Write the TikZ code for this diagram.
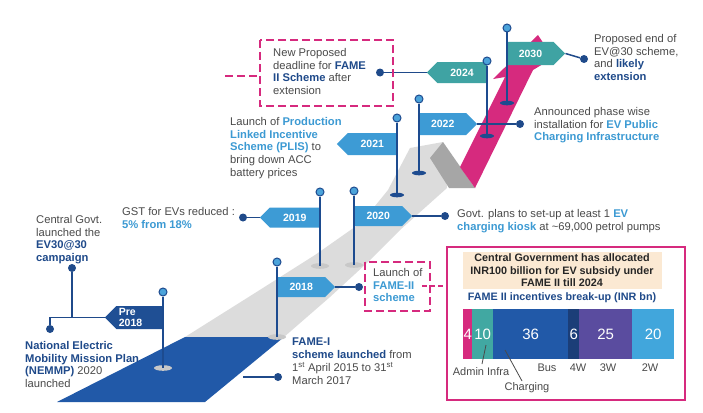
\documentclass[tikz,border=0pt]{standalone}
\usepackage{fontspec}
\setmainfont{Liberation Sans}
\usetikzlibrary{shapes.symbols}
\definecolor{txtgrey}{HTML}{4A4A4A}
\definecolor{cNavy}{HTML}{1F4A8A}
\definecolor{cLblue}{HTML}{3C9AD3}
\definecolor{cFlag}{HTML}{3D9BD5}
\definecolor{cTeal}{HTML}{3FA3A3}
\definecolor{cPre}{HTML}{1F4F94}
\definecolor{cPink}{HTML}{D62A7E}
\definecolor{cPole}{HTML}{1D4B8F}
\definecolor{cBall}{HTML}{4BA3DA}
\definecolor{cRoad}{HTML}{2159A8}
\definecolor{cLgrey}{HTML}{DCDCDC}
\definecolor{cDgrey}{HTML}{A6A6A6}
\definecolor{cBase}{HTML}{C8C8C8}
\definecolor{cBeige}{HTML}{FBE9D3}
\definecolor{cSegBlue}{HTML}{2159A8}
\definecolor{cSegNavy}{HTML}{1B3E78}
\definecolor{cSegPurple}{HTML}{5A4C9F}
\definecolor{cSegLight}{HTML}{41A6DC}
\definecolor{cSegTeal}{HTML}{41A8A2}
\newcommand\navb[1]{\textcolor{cNavy}{\bfseries #1}}
\newcommand\lbb[1]{\textcolor{cLblue}{\bfseries #1}}
\tikzset{
  lab/.style={font=\fontsize{11.2}{12.8}\selectfont, text=txtgrey, align=left, inner sep=0pt, anchor=north west},
  yrflag/.style={signal, signal pointer angle=90, fill=#1, text=white,
     font=\fontsize{10.5}{12}\selectfont\bfseries, inner sep=0pt,
     minimum width=58pt, minimum height=21pt},
  dotn/.style={circle, fill=cNavy, inner sep=0pt, minimum size=8pt},
  polel/.style={line width=2.4pt, draw=cPole},
  ballnode/.style={circle, fill=cBall, draw=cPole, line width=1pt, inner sep=0pt, minimum size=8pt},
  conn/.style={line width=1.5pt, draw=cNavy},
  pinkdash/.style={draw=cPink, line width=2.6pt, dash pattern=on 8pt off 4pt},
  pinkthin/.style={draw=cPink, line width=1.7pt, dash pattern=on 8pt off 4pt},
  seg/.style={anchor=north west, inner sep=0pt, minimum height=50pt, text=white,
     font=\fontsize{15}{15}\selectfont},
  barlab/.style={font=\fontsize{11}{12}\selectfont, text=txtgrey, inner sep=0pt},
  lead/.style={draw=txtgrey, line width=0.8pt},
}
\begin{document}
\begin{tikzpicture}[x=1pt,y=-1pt]
\fill[white] (0,0) rectangle (703,412);
\useasboundingbox (0,0) rectangle (703,412);

% roads
\fill[cLgrey] (185,337) -- (255,293) -- (315,255) -- (362,222) -- (388,190) -- (410,148)
   -- (443,142) -- (447,188) -- (400,230) -- (368,262) -- (330,297) -- (284,337) -- cycle;
\fill[cDgrey] (443,142) -- (475,188) -- (449,188) -- (430,158) -- cycle;
\fill[cPink] (460,167) -- (505,77) -- (493,79) -- (538,35) -- (553,58) -- (533,70) -- (475,188) -- cycle;
\fill[cRoad] (57,402) -- (205,402) -- (284,337) -- (185,337) -- cycle;

% ---------- flags ----------
% Pre 2018
\fill[cBase] (163,368) ellipse [x radius=9pt, y radius=2.8pt];
\node[yrflag=cPre, signal to=west, anchor=east, minimum height=23pt] (fPre) at (163,317.5) {\shortstack[l]{Pre\\2018}\hspace*{18pt}};
\coordinate (bPre) at (163,368);
\node[ballnode] (tPre) at (163,292) {};
\draw[polel] (tPre) -- (bPre);

% 2018
\fill[cBase] (277,337) ellipse [x radius=9pt, y radius=2.8pt];
\node[yrflag=cFlag, signal to=east, anchor=west, minimum height=20pt] (f2018) at (277,287) {2018};
\coordinate (b2018) at (277,337);
\node[ballnode] (t2018) at (277,262) {};
\draw[polel] (t2018) -- (b2018);

% 2019
\fill[cBase] (320,266) ellipse [x radius=9pt, y radius=2.8pt];
\node[yrflag=cFlag, signal to=west, anchor=east, minimum height=20pt, minimum width=60pt] (f2019) at (320,217.5) {2019};
\coordinate (b2019) at (320,266);
\node[ballnode] (t2019) at (320,192) {};
\draw[polel] (t2019) -- (b2019);

% 2020
\fill[cBase] (354,265) ellipse [x radius=9pt, y radius=2.8pt];
\node[yrflag=cFlag, signal to=east, anchor=west, minimum height=20pt] (f2020) at (354,216) {2020};
\coordinate (b2020) at (354,265);
\node[ballnode] (t2020) at (354,191) {};
\draw[polel] (t2020) -- (b2020);

% 2021
\fill[cPole] (397,195) ellipse [x radius=7pt, y radius=2.3pt];
\node[yrflag=cFlag, signal to=west, anchor=east, minimum height=22pt, minimum width=60pt] (f2021) at (397,144) {2021};
\coordinate (b2021) at (397,195);
\node[ballnode] (t2021) at (397,118) {};
\draw[polel] (t2021) -- (b2021);

% 2022
\fill[cPole] (419,173) ellipse [x radius=7pt, y radius=2.3pt];
\node[yrflag=cFlag, signal to=east, anchor=west, minimum height=22pt] (f2022) at (419,124) {2022};
\coordinate (b2022) at (419,173);
\node[ballnode] (t2022) at (419,99) {};
\draw[polel] (t2022) -- (b2022);

% 2024
\fill[cPole] (487,136) ellipse [x radius=7pt, y radius=2.3pt];
\node[yrflag=cTeal, signal to=west, anchor=east, minimum height=21pt, minimum width=60pt] (f2024) at (487,72.5) {2024};
\coordinate (b2024) at (487,136);
\node[ballnode] (t2024) at (487,61) {};
\draw[polel] (t2024) -- (b2024);

% 2030
\fill[cPole] (507,103) ellipse [x radius=7pt, y radius=2.3pt];
\node[yrflag=cTeal, signal to=east, anchor=west, minimum height=23pt] (f2030) at (507,53.5) {2030};
\coordinate (b2030) at (507,103);
\node[ballnode] (t2030) at (507,28) {};
\draw[polel] (t2030) -- (b2030);

% ---------- dots and connectors ----------
\node[dotn] (dCG) at (72,268) {};
\node[dotn] (dNEM) at (50,329) {};
\coordinate (j1) at (72,317.5);
\coordinate (j2) at (50,317.5);
\draw[conn] (fPre.west) -- (j2) -- (dNEM);
\draw[conn] (dCG) -- (j1);

\node[dotn] (d2018) at (359,287) {};
\draw[conn] (f2018.east) -- (d2018);
\node[dotn] (dGST) at (243,217.5) {};
\draw[conn] (f2019.west) -- (dGST);
\node[dotn] (d2020) at (445,216) {};
\draw[conn] (f2020.east) -- (d2020);
\node[dotn] (d2022) at (520,124) {};
\draw[conn] (f2022.east) -- (d2022);
\node[dotn] (d2024) at (380,72.5) {};
\draw[conn] (f2024.west) -- (d2024);
\node[dotn] (d2030) at (584,59) {};
\draw[conn] (f2030.east) -- (d2030);
\coordinate (cF1) at (243,377);
\node[dotn] (dF1) at (278,377) {};
\draw[conn] (cF1) -- (dF1);

% ---------- dashed pink boxes ----------
\draw[pinkdash] (260,40) rectangle (393,106);
\coordinate (stubA) at (225,76);
\coordinate (stubB) at (260,76);
\draw[pinkthin] (stubA) -- (stubB);
\draw[pinkdash] (365,262) rectangle (430,311);

% ---------- texts ----------
\node[lab] (tCG) at (36,215) {Central Govt.\\launched the\\\navb{EV30@30}\\\navb{campaign}};
\node[lab] (tNEM) at (25,341) {\navb{National Electric}\\\navb{Mobility Mission Plan}\\\navb{(NEMMP)} 2020\\launched};
\node[lab] (tGST) at (122,207) {GST for EVs reduced :\\\lbb{5\% from 18\%}};
\node[lab] (tF1) at (292,338) {\navb{FAME-I}\\\navb{scheme launched} from\\1\textsuperscript{st} April 2015 to 31\textsuperscript{st}\\March 2017};
\node[lab] (tLaunch) at (373,268) {Launch of\\\lbb{FAME-II}\\\lbb{scheme}};
\node[lab] (tGovt) at (457,209) {Govt. plans to set-up at least 1 \lbb{EV}\\\lbb{charging kiosk} at \textasciitilde69,000 petrol pumps};
\node[lab] (tPLIS) at (230,117) {Launch of \lbb{Production}\\\lbb{Linked Incentive}\\\lbb{Scheme (PLIS)} to\\bring down ACC\\battery prices};
\node[lab] (tNew) at (273,48) {New Proposed\\deadline for \navb{FAME}\\\navb{II Scheme} after\\extension};
\node[lab] (tAnn) at (534,107) {Announced phase wise\\installation for \lbb{EV Public}\\\lbb{Charging Infrastructure}};
\node[lab] (tEnd) at (594,34) {Proposed end of\\EV@30 scheme,\\and \navb{likely}\\\navb{extension}};

% ---------- big box ----------
\draw[cPink, line width=1.5pt] (447,247) rectangle (685,400);
\coordinate (lnA) at (422,286);
\coordinate (lnB) at (447,286);
\draw[cPink, line width=1.5pt, dash pattern=on 5pt off 3pt] (lnA) -- (lnB);
\fill[cBeige] (463,252) rectangle (662,289);
\node[font=\fontsize{10.8}{12.5}\selectfont\bfseries, text=black!85, align=center, inner sep=0pt] (tTitle) at (562,270.5)
  {Central Government has allocated\\INR100 billion for EV subsidy under\\FAME II till 2024};
\node[font=\fontsize{10.8}{12.5}\selectfont\bfseries, text=cNavy, inner sep=0pt] (tSub) at (562,298)
  {FAME II incentives break-up (INR bn)};
\node[seg, fill=cPink, minimum width=9pt] (s4) at (463,309) {4};
\node[seg, fill=cSegTeal, minimum width=21pt] (s10) at (472,309) {10};
\node[seg, fill=cSegBlue, minimum width=75pt] (s36) at (493,309) {36};
\node[seg, fill=cSegNavy, minimum width=11pt] (s6) at (568,309) {6};
\node[seg, fill=cSegPurple, minimum width=53pt] (s25) at (579,309) {25};
\node[seg, fill=cSegLight, minimum width=42pt] (s20) at (632,309) {20};
\node[barlab] (lAdmin) at (481,372) {Admin Infra};
\node[barlab] (lCharg) at (527,388) {Charging};
\node[barlab] (lBus) at (547,368) {Bus};
\node[barlab] (l4W) at (578,368) {4W};
\node[barlab] (l3W) at (608,368) {3W};
\node[barlab] (l2W) at (650,368) {2W};
\coordinate (ldA) at (486,345);
\coordinate (ldB) at (482,364);
\coordinate (ldC) at (505,350);
\coordinate (ldD) at (522,381);
\draw[lead] (ldA) -- (ldB);
\draw[lead] (ldC) -- (ldD);
\end{tikzpicture}
\end{document}
